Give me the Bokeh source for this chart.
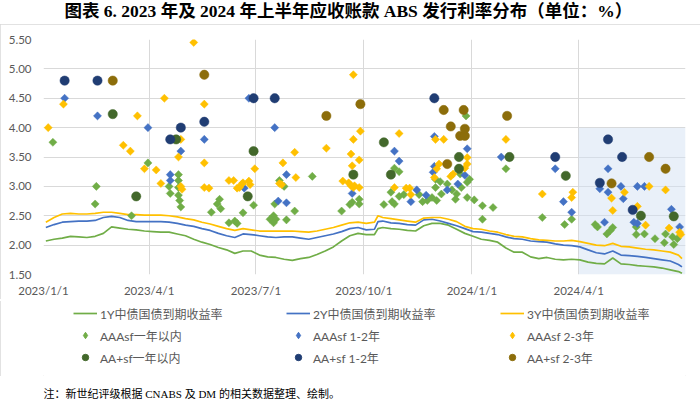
import numpy as np
import pandas as pd
from bokeh.plotting import figure
from bokeh.layouts import column
from bokeh.models import (Range1d, FixedTicker, PrintfTickFormatter, Legend, LegendItem,
                          Label, BoxAnnotation, InlineStyleSheet)
from bokeh.embed import file_html
from bokeh.resources import INLINE

# ---------------- texts ----------------
TITLE = "图表 6.  2023 年及 2024 年上半年应收账款 ABS 发行利率分布（单位：%）"
NOTE = "注：新世纪评级根据 CNABS 及 DM 的相关数据整理、绘制。"
SERIES_NAMES = ["1Y中债国债到期收益率", "2Y中债国债到期收益率", "3Y中债国债到期收益率",
                "AAAsf一年以内", "AAAsf 1-2年", "AAAsf 2-3年",
                "AA+sf一年以内", "AA+sf 1-2年", "AA+sf 2-3年"]

# ---------------- axes ----------------
X_TICKS = ["2023-01-01", "2023-04-01", "2023-07-01", "2023-10-01", "2024-01-01", "2024-04-01", "2024-07-01"]
X_TICK_LABELS = ["2023/1/1", "2023/4/1", "2023/7/1", "2023/10/1", "2024/1/1", "2024/4/1", ""]
Y_TICKS = [1.5, 2.0, 2.5, 3.0, 3.5, 4.0, 4.5, 5.0, 5.5]
HIGHLIGHT = ("2024-04-01", "2024-07-01", 1.5, 4.0)

# ---------------- government bond curves ----------------
curve_dates = ["2023-01-03", "2023-01-10", "2023-01-17", "2023-01-24", "2023-01-31", "2023-02-07", "2023-02-14",
               "2023-02-21", "2023-02-28", "2023-03-07", "2023-03-14", "2023-03-21", "2023-03-28", "2023-04-04",
               "2023-04-11", "2023-04-18", "2023-04-25", "2023-05-02", "2023-05-09", "2023-05-16", "2023-05-23",
               "2023-05-30", "2023-06-06", "2023-06-13", "2023-06-20", "2023-06-27", "2023-07-04", "2023-07-11",
               "2023-07-18", "2023-07-25", "2023-08-01", "2023-08-08", "2023-08-15", "2023-08-22", "2023-08-29",
               "2023-09-05", "2023-09-12", "2023-09-19", "2023-09-26", "2023-10-03", "2023-10-10", "2023-10-13",
               "2023-10-17", "2023-10-24", "2023-10-31", "2023-11-07", "2023-11-14", "2023-11-21", "2023-11-28",
               "2023-12-05", "2023-12-12", "2023-12-19", "2023-12-26", "2024-01-02", "2024-01-09", "2024-01-16",
               "2024-01-23", "2024-01-30", "2024-02-06", "2024-02-13", "2024-02-20", "2024-02-27", "2024-03-05",
               "2024-03-12", "2024-03-19", "2024-03-26", "2024-04-02", "2024-04-09", "2024-04-16", "2024-04-23",
               "2024-04-30", "2024-05-07", "2024-05-14", "2024-05-21", "2024-05-28", "2024-06-04", "2024-06-11",
               "2024-06-18", "2024-06-25", "2024-06-28"]
yield_1y = [2.07, 2.10, 2.12, 2.15, 2.14, 2.13, 2.15, 2.20, 2.31, 2.29,
            2.27, 2.26, 2.24, 2.23, 2.22, 2.22, 2.19, 2.16, 2.10, 2.05,
            2.01, 1.96, 1.92, 1.86, 1.90, 1.90, 1.83, 1.80, 1.79, 1.76,
            1.74, 1.77, 1.79, 1.84, 1.90, 1.97, 2.07, 2.16, 2.20, 2.18,
            2.18, 2.28, 2.30, 2.28, 2.27, 2.25, 2.24, 2.33, 2.37, 2.37,
            2.34, 2.27, 2.20, 2.15, 2.10, 2.08, 2.05, 1.95, 1.88, 1.88,
            1.80, 1.77, 1.79, 1.76, 1.75, 1.76, 1.75, 1.71, 1.69, 1.68,
            1.78, 1.68, 1.67, 1.65, 1.64, 1.63, 1.61, 1.58, 1.55, 1.52]
yield_2y = [2.30, 2.35, 2.39, 2.40, 2.41, 2.41, 2.42, 2.47, 2.49, 2.47,
            2.42, 2.40, 2.40, 2.40, 2.40, 2.39, 2.37, 2.34, 2.32, 2.28,
            2.25, 2.20, 2.16, 2.13, 2.19, 2.18, 2.16, 2.14, 2.13, 2.14,
            2.14, 2.12, 2.10, 2.13, 2.16, 2.19, 2.23, 2.28, 2.30, 2.26,
            2.27, 2.40, 2.41, 2.38, 2.37, 2.35, 2.34, 2.43, 2.44, 2.41,
            2.37, 2.33, 2.28, 2.23, 2.22, 2.20, 2.18, 2.14, 2.11, 2.10,
            2.07, 2.06, 2.05, 2.02, 2.00, 1.99, 1.97, 1.92, 1.87, 1.85,
            1.90, 1.83, 1.82, 1.81, 1.79, 1.77, 1.75, 1.73, 1.67, 1.63]
yield_3y = [2.39, 2.47, 2.53, 2.54, 2.53, 2.53, 2.54, 2.56, 2.56, 2.54,
            2.52, 2.52, 2.51, 2.51, 2.51, 2.50, 2.48, 2.45, 2.43, 2.39,
            2.36, 2.32, 2.28, 2.25, 2.28, 2.26, 2.24, 2.24, 2.24, 2.24,
            2.24, 2.23, 2.22, 2.24, 2.27, 2.30, 2.34, 2.38, 2.39, 2.37,
            2.39, 2.50, 2.47, 2.45, 2.43, 2.41, 2.39, 2.46, 2.47, 2.47,
            2.44, 2.40, 2.32, 2.28, 2.27, 2.24, 2.22, 2.18, 2.15, 2.14,
            2.11, 2.09, 2.08, 2.07, 2.07, 2.08, 2.06, 2.03, 2.00, 1.99,
            2.03, 1.98, 1.97, 1.95, 1.93, 1.92, 1.90, 1.88, 1.83, 1.77]

# ---------------- ABS issues ----------------
aaa_1y_dates = ["2023-01-09", "2023-02-15", "2023-02-14", "2023-03-17", "2023-03-31", "2023-04-18", "2023-04-19",
                "2023-04-26", "2023-04-26", "2023-04-26", "2023-04-26", "2023-04-27", "2023-04-28", "2023-05-24",
                "2023-05-31", "2023-05-29", "2023-06-01", "2023-06-08", "2023-06-15", "2023-06-13", "2023-06-20",
                "2023-06-29", "2023-07-17", "2023-07-16", "2023-07-13", "2023-07-18", "2023-07-16", "2023-07-27",
                "2023-07-21", "2023-07-25", "2023-08-03", "2023-08-18", "2023-09-12", "2023-09-21", "2023-09-19",
                "2023-09-27", "2023-09-27", "2023-10-18", "2023-10-27", "2023-10-31", "2023-10-24", "2023-10-25",
                "2023-10-27", "2023-10-31", "2023-11-04", "2023-11-17", "2023-11-20", "2023-11-24", "2023-11-28",
                "2023-12-02", "2023-12-06", "2023-12-01", "2023-12-05", "2023-12-01", "2023-12-11", "2023-12-15",
                "2023-12-19", "2023-12-18", "2023-12-23", "2023-12-28", "2023-12-22", "2023-12-28", "2023-12-30",
                "2023-12-27", "2024-01-03", "2024-01-10", "2024-01-10", "2024-01-19", "2024-01-30", "2024-03-01",
                "2024-03-26", "2024-03-20", "2024-04-15", "2024-04-17", "2024-04-25", "2024-04-28", "2024-04-30",
                "2024-05-20", "2024-05-20", "2024-05-27", "2024-06-05", "2024-06-14", "2024-06-13", "2024-06-20",
                "2024-06-21", "2024-06-24"]
aaa_1y_rates = [3.75, 3.00, 2.70, 2.50, 3.40, 3.00, 2.88,
                3.20, 3.10, 2.98, 2.85, 2.76, 2.65, 2.56,
                2.78, 2.70, 2.62, 2.38, 2.37, 2.41, 2.55,
                2.68, 2.70, 2.50, 2.44, 2.44, 2.38, 2.43,
                3.10, 3.00, 2.58, 3.17, 2.58, 2.73, 2.69,
                2.78, 2.70, 2.69, 3.31, 3.25, 2.90, 2.74,
                2.70, 2.83, 2.86, 2.86, 2.74, 2.76, 2.81,
                2.76, 2.87, 2.98, 3.08, 3.12, 3.04, 2.94,
                2.87, 2.78, 2.98, 3.07, 3.21, 2.81, 3.12,
                4.20, 2.77, 2.67, 2.44, 2.64, 3.30, 2.47,
                2.44, 2.35, 2.35, 2.31, 2.19, 2.25, 2.30,
                2.31, 2.18, 2.19, 2.11, 2.19, 2.04, 2.14,
                2.01, 2.11]

aaa_12_dates = ["2023-01-19", "2023-02-16", "2023-03-31", "2023-04-19", "2023-04-19", "2023-04-28", "2023-05-18",
                "2023-06-25", "2023-06-21", "2023-07-17", "2023-07-20", "2023-07-27", "2023-07-27", "2023-09-21",
                "2023-10-27", "2023-10-31", "2023-11-10", "2023-11-15", "2023-11-23", "2023-11-30", "2023-11-30",
                "2023-11-29", "2023-12-20", "2023-12-11", "2023-12-28", "2023-12-26", "2024-01-26", "2024-03-12",
                "2024-03-19", "2024-03-26", "2024-04-26", "2024-04-19", "2024-04-26", "2024-05-07", "2024-05-09",
                "2024-05-21", "2024-05-27", "2024-05-18", "2024-05-21", "2024-04-23", "2024-06-19", "2024-06-26"]
aaa_12_rates = [4.50, 4.20, 4.00, 3.20, 3.10, 3.60, 3.80,
                4.50, 2.97, 4.00, 2.75, 2.72, 3.20, 2.88,
                3.60, 3.43, 2.74, 2.94, 2.85, 3.85, 3.34,
                3.24, 3.04, 2.94, 3.64, 3.19, 3.50, 3.30,
                2.74, 2.56, 3.30, 2.96, 2.90, 3.00, 2.79,
                3.00, 3.00, 2.39, 2.37, 2.39, 2.61, 2.31]

aaa_23_dates = ["2023-01-05", "2023-01-18", "2023-03-22", "2023-03-10", "2023-03-16", "2023-03-28", "2023-04-07",
                "2023-04-11", "2023-04-14", "2023-04-28", "2023-04-26", "2023-04-28", "2023-04-29", "2023-05-09",
                "2023-05-18", "2023-05-18", "2023-05-18", "2023-05-22", "2023-06-08", "2023-06-12", "2023-06-15",
                "2023-06-17", "2023-06-19", "2023-06-20", "2023-06-25", "2023-06-26", "2023-06-30", "2023-07-21",
                "2023-07-23", "2023-07-24", "2023-08-03", "2023-08-04", "2023-08-30", "2023-09-22", "2023-09-22",
                "2023-09-20", "2023-09-21", "2023-09-13", "2023-09-18", "2023-09-20", "2023-09-23", "2023-09-27",
                "2023-09-22", "2023-09-28", "2023-09-27", "2023-10-31", "2023-10-27", "2023-11-06", "2023-11-09",
                "2023-11-10", "2023-12-01", "2023-12-08", "2023-12-04", "2023-12-02", "2023-11-30", "2023-12-16",
                "2023-12-14", "2023-12-28", "2023-12-28", "2023-12-26", "2024-01-30", "2024-03-01", "2024-03-27",
                "2024-03-26", "2024-04-29", "2024-05-10", "2024-04-30", "2024-05-28", "2024-05-21", "2024-05-31",
                "2024-06-14", "2024-06-17", "2024-06-27", "2024-06-26"]
aaa_23_rates = [4.00, 4.40, 4.20, 3.70, 3.60, 3.30, 3.28,
                3.05, 4.50, 3.80, 3.50, 3.00, 2.95, 5.45,
                4.40, 3.40, 2.98, 2.97, 3.10, 3.10, 2.97,
                2.98, 3.04, 3.06, 3.09, 3.03, 3.30, 3.05,
                3.03, 3.40, 3.58, 3.15, 3.65, 4.90, 3.80,
                3.55, 3.35, 3.09, 3.06, 3.01, 3.01, 2.98,
                2.98, 3.94, 3.45, 3.90, 2.98, 2.97, 2.97,
                2.86, 3.80, 3.80, 3.38, 3.30, 3.15, 3.21,
                3.17, 3.49, 3.38, 3.31, 3.80, 2.87, 2.90,
                2.81, 2.80, 2.90, 2.59, 2.34, 2.66, 3.00,
                2.94, 2.29, 2.18, 2.22]

aa_1y_dates = ["2023-03-01", "2023-03-21", "2023-04-24", "2023-06-24", "2023-06-29", "2023-09-22", "2023-10-18",
               "2023-10-24", "2023-12-21", "2023-12-21", "2024-02-02", "2024-03-21", "2024-05-24", "2024-06-21"]
aa_1y_rates = [4.23, 2.83, 3.80, 2.83, 3.60, 3.20, 3.75,
               3.20, 3.50, 3.30, 3.50, 3.18, 2.50, 2.49]

aa_12_dates = ["2023-01-19", "2023-02-16", "2023-04-19", "2023-04-28", "2023-05-18", "2023-06-29", "2023-07-17",
               "2023-11-30", "2024-03-12", "2024-04-26", "2024-05-08", "2024-04-19", "2024-05-17"]
aa_12_rates = [4.80, 4.80, 3.80, 4.00, 4.10, 4.50, 4.50,
               4.50, 3.50, 3.80, 3.50, 3.06, 2.60]

aa_23_dates = ["2023-03-01", "2023-05-18", "2023-08-30", "2023-09-28", "2023-12-08", "2023-12-25", "2023-12-14",
               "2023-12-22", "2023-12-26", "2023-12-26", "2023-12-11", "2024-01-31", "2024-04-29", "2024-05-31",
               "2024-06-14"]
aa_23_rates = [4.80, 4.90, 4.20, 4.40, 4.30, 4.30, 4.02,
               3.86, 3.86, 3.98, 3.38, 4.20, 3.05, 3.50,
               3.30]

# ---------------- styling / layout ----------------
LINE_COLORS = ["#70ad47", "#4472c4", "#ffc000"]
MARKER_COLORS = ["#70ad47", "#4472c4", "#ffc000", "#43682b", "#203d73", "#8c6d0a"]
TXT = "#595959"
BOX = "#d9d9d9"
LATIN_CJK = 'Lato, "Noto Sans CJK SC"'
SERIF_CJK = '"Liberation Serif", "Noto Sans CJK SC"'
W = 700
BL, BR = 43, 15          # left / right borders shared by all stacked figures
LEGEND_COL_X = [30, 243, 457]
OFFSCREEN = -1000        # legend key renderers hold a point outside the visible range


def ms(d):
    return int(pd.Timestamp(d).value // 10**6)


def dt(lst):
    return pd.to_datetime(lst)


def box_css(clip):
    return InlineStyleSheet(css=f":host {{ outline: 1px solid {BOX}; outline-offset: -1px; clip-path: inset({clip}); }}")


def strip(height):
    f = figure(width=W, height=height, output_backend="svg", toolbar_location=None,
               x_range=Range1d(BL, W - BR), y_range=Range1d(0, height),
               x_axis_location=None, y_axis_location=None,
               min_border_left=BL, min_border_right=BR, min_border_top=0, min_border_bottom=0,
               background_fill_color="white", border_fill_color="white")
    f.grid.visible = False
    f.outline_line_color = None
    return f


# ---------------- title strip ----------------
top = strip(24)
top.add_layout(Label(x=W / 2, y=14, text=TITLE, text_align="center", text_baseline="middle",
                     text_font=SERIF_CJK, text_font_style="bold", text_font_size="17.5px", text_color="#000000"))

# ---------------- main chart ----------------
p = figure(width=W, height=276, x_axis_type="datetime", output_backend="svg", toolbar_location=None,
           x_range=Range1d(ms(X_TICKS[0]), ms(X_TICKS[-1])), y_range=Range1d(Y_TICKS[0], Y_TICKS[-1]),
           min_border_left=BL, min_border_right=BR, min_border_top=15, min_border_bottom=26,
           background_fill_color="white", border_fill_color="white")
p.outline_line_color = None
p.styles = {"outline": f"1px solid {BOX}", "outline-offset": "-1px", "clip-path": "inset(0 0 1px 0)"}
p.stylesheets = [box_css("0 0 1px 0")]

p.xaxis.ticker = FixedTicker(ticks=[ms(d) for d in X_TICKS])
p.xaxis.major_label_overrides = {ms(d): lab for d, lab in zip(X_TICKS, X_TICK_LABELS)}
p.yaxis.ticker = FixedTicker(ticks=Y_TICKS)
p.yaxis.formatter = PrintfTickFormatter(format="%.2f")
for ax in (p.xaxis, p.yaxis):
    ax.axis_line_color = None
    ax.major_tick_line_color = None
    ax.minor_tick_line_color = None
    ax.major_tick_out = 0
    ax.major_tick_in = 0
    ax.major_label_text_font = "Lato"
    ax.major_label_text_font_size = "11.5px"
    ax.major_label_text_color = TXT
p.xaxis.major_label_standoff = 9
p.yaxis.major_label_standoff = 12
for g in (p.xgrid, p.ygrid):
    g.grid_line_color = "#d9d9d9"
    g.grid_line_width = 1

p.add_layout(BoxAnnotation(left=ms(HIGHLIGHT[0]), right=ms(HIGHLIGHT[1]), bottom=HIGHLIGHT[2], top=HIGHLIGHT[3],
                           fill_color="#d4e1f4", fill_alpha=0.5, line_color=None, level="underlay"))

for vals, col in zip([yield_1y, yield_2y, yield_3y], LINE_COLORS):
    p.line(dt(curve_dates), vals, line_color=col, line_width=1.7)

series = [(aaa_1y_dates, aaa_1y_rates), (aaa_12_dates, aaa_12_rates), (aaa_23_dates, aaa_23_rates),
          (aa_1y_dates, aa_1y_rates), (aa_12_dates, aa_12_rates), (aa_23_dates, aa_23_rates)]
for i, ((ds, vs), col) in enumerate(zip(series, MARKER_COLORS)):
    if i < 3:
        p.scatter(dt(ds), vs, marker="square", size=5.7, angle=np.pi / 4,
                  fill_color=col, line_color=col, line_width=0.5)
    else:
        p.scatter(dt(ds), vs, marker="circle", size=9.3, fill_color=col, line_color=col, line_width=0.5)

# ---------------- legend strip ----------------
leg = strip(76)
leg.styles = {"outline": f"1px solid {BOX}", "outline-offset": "-1px", "clip-path": "inset(1px 0 0 0)"}
leg.stylesheets = [box_css("1px 0 0 0")]
keys = []
for col in LINE_COLORS:
    keys.append(leg.line(x=[OFFSCREEN, OFFSCREEN - 1], y=[OFFSCREEN, OFFSCREEN], line_color=col, line_width=1.7))
for i, col in enumerate(MARKER_COLORS):
    keys.append(leg.scatter(x=[OFFSCREEN], y=[OFFSCREEN], marker="diamond" if i < 3 else "circle",
                            fill_color=col, line_color=col))
for k in range(3):
    idx = [k, 3 + k, 6 + k]
    lg = Legend(items=[LegendItem(label=SERIES_NAMES[j], renderers=[keys[j]]) for j in idx],
                location=(LEGEND_COL_X[k], 8), orientation="vertical",
                glyph_width=24, glyph_height=16, label_height=22, label_standoff=3, spacing=0,
                padding=0, margin=0, border_line_color=None, background_fill_alpha=0,
                label_text_font=LATIN_CJK, label_text_font_size="12px", label_text_color=TXT)
    leg.add_layout(lg, "center")

# ---------------- note strip ----------------
bottom = strip(24)
bottom.add_layout(Label(x=BL, y=7, text=NOTE, text_align="left", text_baseline="middle",
                        text_font=SERIF_CJK, text_font_size="11px", text_color="#000000"))

layout = column(top, p, leg, bottom, spacing=0)
open("out.html", "w").write(file_html(layout, INLINE))
